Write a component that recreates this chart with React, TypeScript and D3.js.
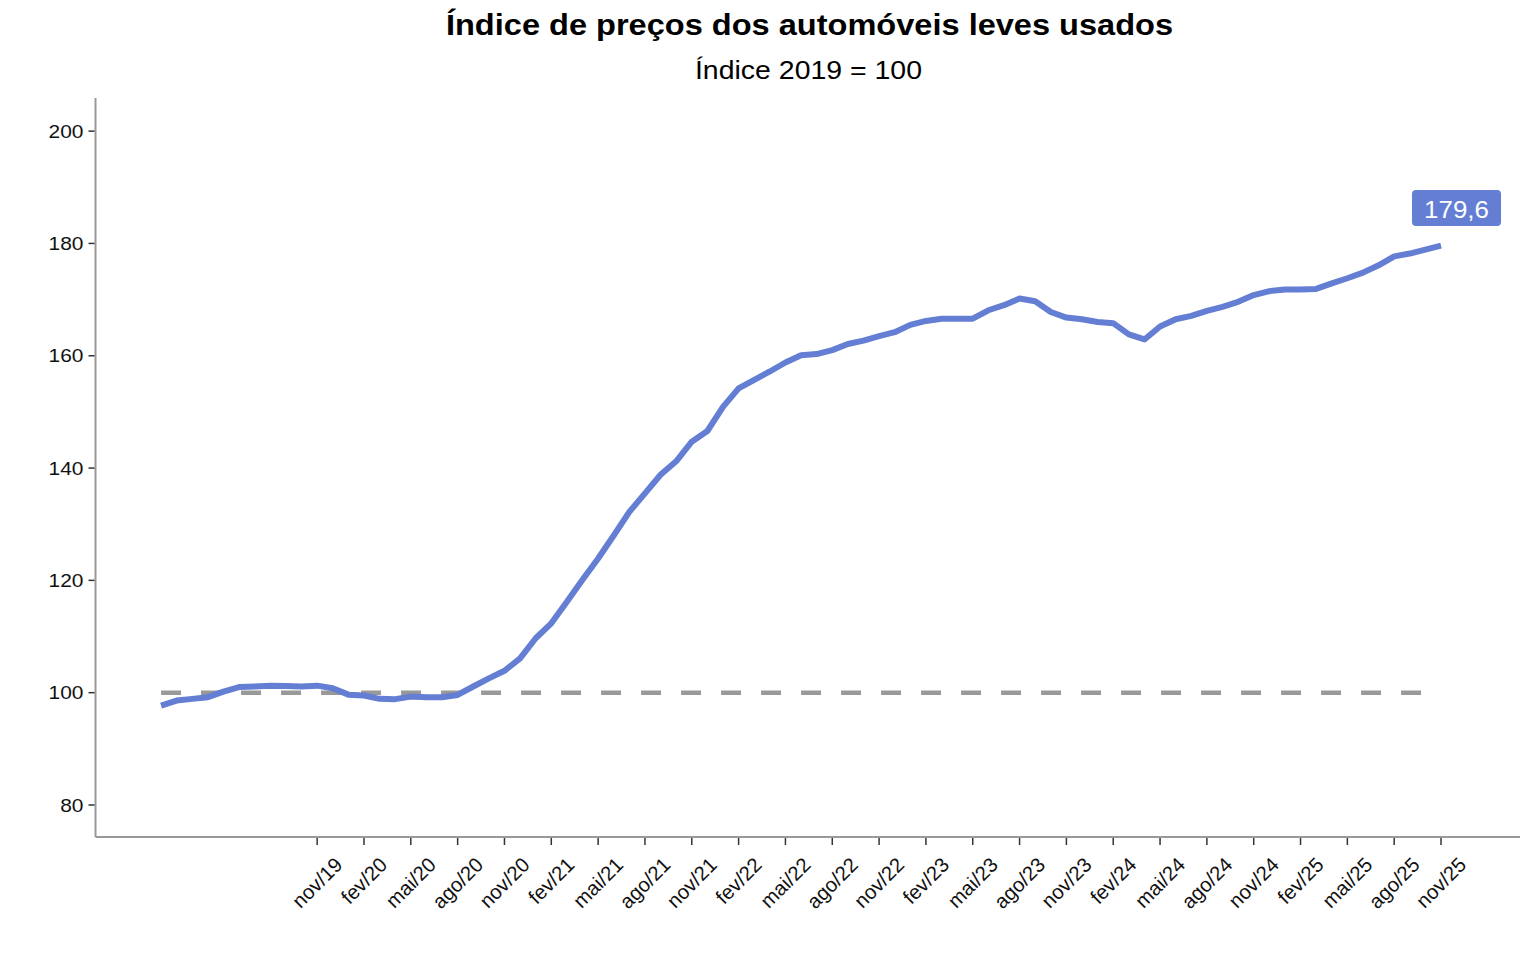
import React, { useLayoutEffect, useRef } from "react";
import * as d3 from "d3";

const MONTHS = ["jan", "fev", "mar", "abr", "mai", "jun", "jul", "ago", "set", "out", "nov", "dez"];
const START_YEAR = 2019;

const indexValues: number[] = [
  // 2019
  97.7, 98.6, 98.9, 99.2, 100.2, 101.0, 101.1, 101.25, 101.2, 101.1, 101.25, 100.8,
  // 2020
  99.65, 99.5, 98.9, 98.85, 99.3, 99.2, 99.2, 99.6, 101.1, 102.55, 103.9, 106.1,
  // 2021
  109.7, 112.35, 116.2, 120.1, 123.9, 128.0, 132.2, 135.5, 138.8, 141.2, 144.7, 146.6,
  // 2022
  150.9, 154.2, 155.7, 157.2, 158.8, 160.1, 160.3, 161.0, 162.1, 162.7, 163.5, 164.2,
  // 2023
  165.5, 166.2, 166.6, 166.6, 166.6, 168.1, 169.0, 170.2, 169.7, 167.8, 166.8, 166.5,
  // 2024
  166.0, 165.8, 163.8, 162.9, 165.2, 166.5, 167.1, 168.0, 168.7, 169.6, 170.8, 171.5,
  // 2025
  171.8, 171.8, 171.9, 172.9, 173.8, 174.8, 176.1, 177.7, 178.2, 178.9, 179.6,
];

const monthLabels: string[] = indexValues.map((_, i) => {
  const m = i % 12;
  const y = START_YEAR + Math.floor(i / 12);
  return `${MONTHS[m]}/${String(y).slice(2)}`;
});

const yTicks = [80, 100, 120, 140, 160, 180, 200];
const baseline = 100;
const tickIdx: number[] = [];
for (let i = 10; i < indexValues.length; i += 3) tickIdx.push(i);

const TITLE = "Índice de preços dos automóveis leves usados";
const SUBTITLE = "Índice 2019 = 100";

const LINE_COLOR = "#637ED3";
const FONT = "'Liberation Sans', Arial, sans-serif";

export default function App() {
  const W = 1536;
  const H = 960;
  const x = d3.scaleLinear().domain([-4.2, 87.06]).range([95.5, 1520]);
  const y = d3.scaleLinear().domain([74.3, 205.9]).range([837, 98]);

  const line = d3
    .line<number>()
    .x((_, i) => x(i))
    .y((d) => y(d))
    .curve(d3.curveLinear);

  const lastI = indexValues.length - 1;
  const lastV = indexValues[lastI];
  const lx = x(lastI);
  const ly = y(lastV);
  const boxW = 89;
  const boxH = 36;
  const boxCx = lx + 15.5;
  const boxBottom = ly - 19.7;

  const labelsRef = useRef<SVGGElement | null>(null);

  useLayoutEffect(() => {
    const g = labelsRef.current;
    if (!g) return;
    const top = 856;
    const capH = 14.6;
    d3.select(g)
      .selectAll<SVGTextElement, number>("text")
      .each(function () {
        const t = this as SVGTextElement;
        const L = t.getComputedTextLength();
        const cx = +(t.getAttribute("data-x") || 0);
        const cy = top + 0.7071 * (L + capH) / 2;
        t.setAttribute("transform", `translate(${cx},${cy}) rotate(-45)`);
      });
  }, []);

  return (
    <svg
      width={W}
      height={H}
      style={{ position: "absolute", left: 0, top: 0, background: "#fff" }}
      fontFamily={FONT}
    >
      <rect x={0} y={0} width={W} height={H} fill="#fff" />
      {/* title */}
      <text
        transform="translate(809.5,35) scale(1.085,1)"
        textAnchor="middle"
        fontSize={30}
        fontWeight="bold"
        fill="#000"
      >
        {TITLE}
      </text>
      <text
        transform="translate(808.5,79) scale(1.095,1)"
        textAnchor="middle"
        fontSize={26}
        fill="#000"
      >
        {SUBTITLE}
      </text>

      {/* axes */}
      <line x1={95.5} x2={95.5} y1={98} y2={837} stroke="#999" strokeWidth={2} />
      <line x1={95.5} x2={1520} y1={837} y2={837} stroke="#999" strokeWidth={2} />
      {yTicks.map((t) => (
        <g key={t}>
          <line x1={88.5} x2={94.5} y1={y(t)} y2={y(t)} stroke="#333" strokeWidth={1.5} />
          <text
            transform={`translate(83.5,${y(t) + 6.6}) scale(1.12,1)`}
            textAnchor="end"
            fontSize={18.7}
            fill="#111"
          >
            {t}
          </text>
        </g>
      ))}
      {tickIdx.map((i) => (
        <line key={i} x1={x(i)} x2={x(i)} y1={838} y2={845} stroke="#333" strokeWidth={1.5} />
      ))}
      <g ref={labelsRef}>
        {tickIdx.map((i) => (
          <text
            key={i}
            data-x={x(i)}
            textAnchor="middle"
            dominantBaseline="central"
            fontSize={20.3}
            fill="#111"
            transform={`translate(${x(i)},890) rotate(-45)`}
          >
            {monthLabels[i]}
          </text>
        ))}
      </g>

      {/* baseline 100 */}
      <line
        x1={x(0)}
        x2={x(lastI)}
        y1={y(baseline)}
        y2={y(baseline)}
        stroke="#999"
        strokeWidth={4.5}
        strokeDasharray="20,20"
      />

      {/* series */}
      <path
        d={line(indexValues) || ""}
        fill="none"
        stroke={LINE_COLOR}
        strokeWidth={6}
        strokeLinejoin="round"
        strokeLinecap="butt"
      />

      {/* last value label */}
      <rect
        x={boxCx - boxW / 2}
        y={boxBottom - boxH}
        width={boxW}
        height={boxH}
        rx={4}
        fill={LINE_COLOR}
      />
      <text
        transform={`translate(${boxCx},${boxBottom - 8.3}) scale(1.08,1)`}
        textAnchor="middle"
        fontSize={24}
        fill="#fff"
      >
        {lastV.toFixed(1).replace(".", ",")}
      </text>
    </svg>
  );
}
